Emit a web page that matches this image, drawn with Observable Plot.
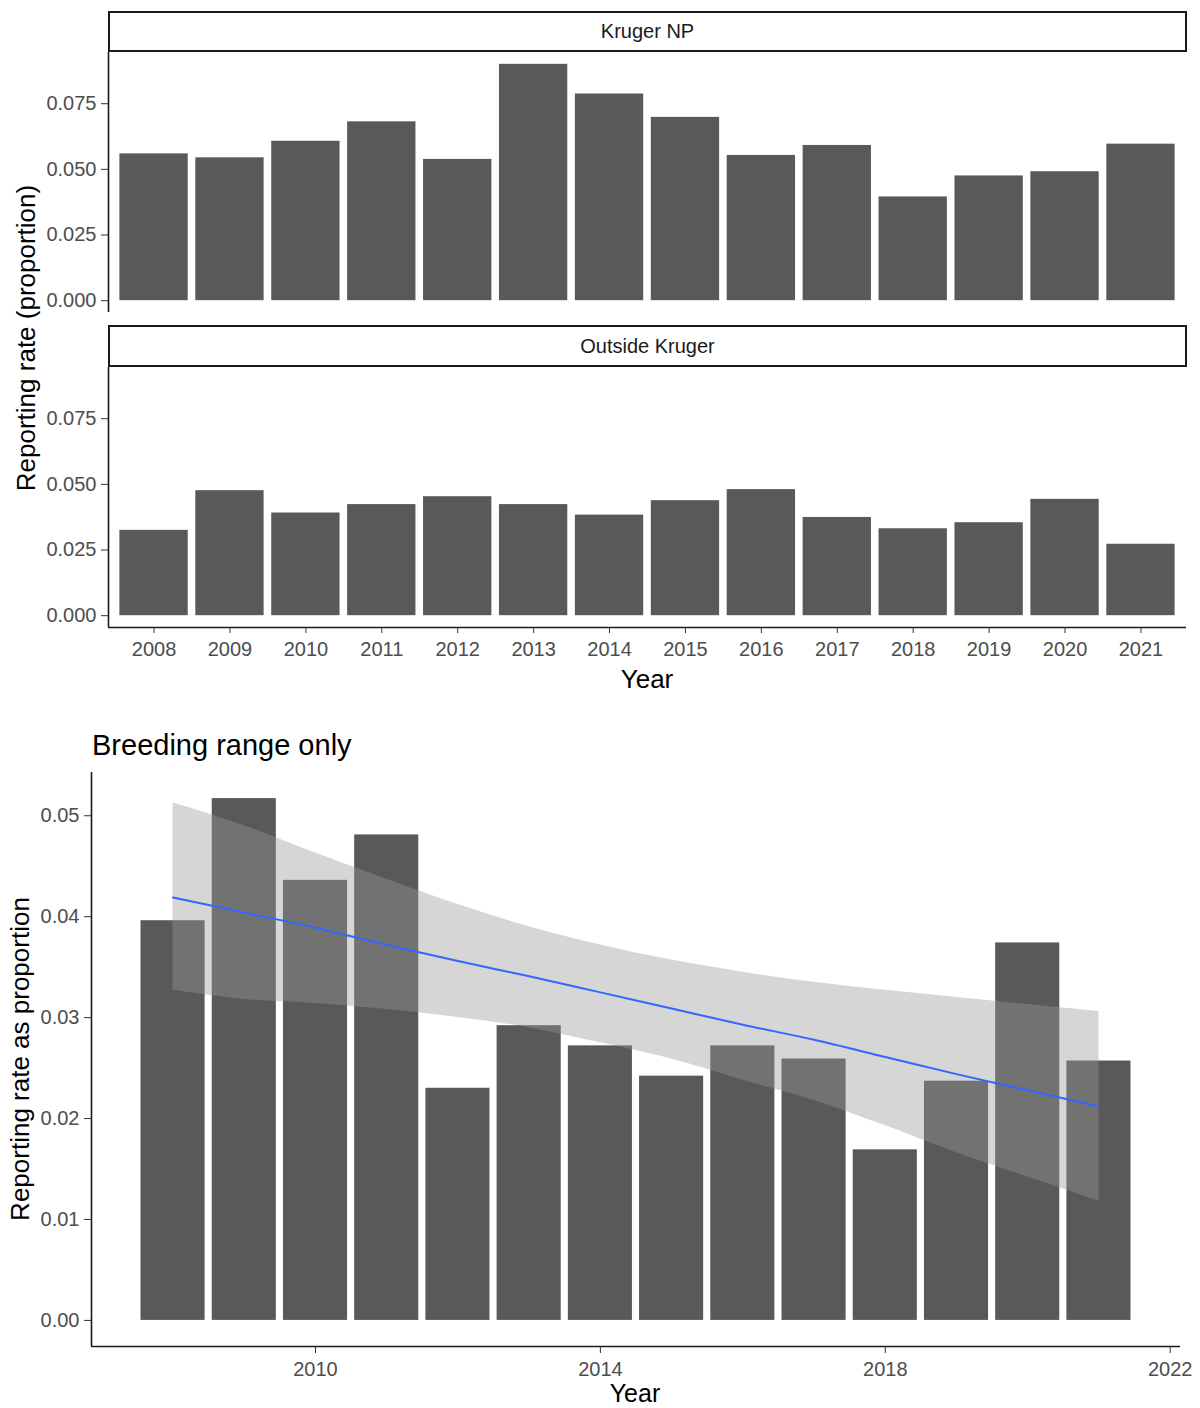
<!DOCTYPE html>
<html><head><meta charset="utf-8">
<script src="https://cdn.jsdelivr.net/npm/d3@7"></script>
<script src="https://cdn.jsdelivr.net/npm/@observablehq/plot@0.6"></script>
<style>
body{margin:0;background:#fff;font-family:"Liberation Sans",Arial,sans-serif;}
#root{position:relative;width:1200px;height:1408px;overflow:hidden;background:#fff;}
.panel{position:absolute;left:0;}
.strip{position:absolute;box-sizing:border-box;border:2px solid #1a1a1a;background:#fff;display:flex;align-items:center;justify-content:center;font-size:20px;color:#1a1a1a;}
.ttl{position:absolute;white-space:nowrap;color:#000;font-size:26px;line-height:1;transform:translate(-50%,-50%);}
.rot{transform:translate(-50%,-50%) rotate(-90deg);}
</style></head><body><div id="root"></div>
<script>
// ---- data ----
const years = [2008,2009,2010,2011,2012,2013,2014,2015,2016,2017,2018,2019,2020,2021];
const facetLabels = ["Kruger NP", "Outside Kruger"];
const kruger  = [0.0559,0.0544,0.0607,0.0681,0.0538,0.0900,0.0787,0.0698,0.0553,0.0591,0.0395,0.0475,0.0491,0.0596];
const outside = [0.0325,0.0476,0.0391,0.0423,0.0453,0.0423,0.0383,0.0438,0.0480,0.0374,0.0331,0.0354,0.0443,0.0272];
const breeding = [0.0396,0.0517,0.0436,0.0481,0.0230,0.0292,0.0272,0.0242,0.0272,0.0259,0.0169,0.0237,0.0374,0.0257];
const smoothFit = [0.0419,0.0404,0.0389,0.0372,0.0356,0.0341,0.0325,0.0309,0.0293,0.0278,0.0261,0.0244,0.0228,0.0212];
const smoothHi  = [0.0513,0.0490,0.0463,0.0437,0.0412,0.0390,0.0372,0.0357,0.0345,0.0335,0.0327,0.0320,0.0313,0.0306];
const smoothLo  = [0.0327,0.0318,0.0314,0.0308,0.0300,0.0290,0.0275,0.0259,0.0238,0.0218,0.0193,0.0166,0.0142,0.0118];
const topYTicks = [0, 0.025, 0.05, 0.075];
const bottomYTicks = [0, 0.01, 0.02, 0.03, 0.04, 0.05];
const bottomXTicks = [2010, 2014, 2018, 2022];
const titles = {
  topY: "Reporting rate (proportion)", topX: "Year",
  main: "Breeding range only", bottomY: "Reporting rate as proportion", bottomX: "Year"
};

// ---- styles ----
const BAR = "#595959", AXIS = "#1a1a1a", TICK = "#333333", TICKTXT = "#4d4d4d";
const FONT = "'Liberation Sans', Arial, sans-serif";
const TICKFONT = 20;
const root = document.getElementById("root");

function place(el, top) { el.classList.add("panel"); el.style.top = top + "px"; root.appendChild(el); }
function addDiv(cls, text, css) {
  const d = document.createElement("div"); d.className = cls; d.textContent = text;
  Object.assign(d.style, css); root.appendChild(d); return d;
}

// ---- top faceted panels ----
const topMax = d3.max([...kruger, ...outside]);
const topY = [-0.05 * topMax, 1.05 * topMax];
const topX = [years[0] - 0.6, years[years.length - 1] + 0.6];
const PANEL_H = 260;

function topPanel(values, withX) {
  const data = years.map((year, i) => ({year, value: values[i]}));
  const marks = [
    Plot.rectY(data, {x1: d => d.year - 0.45, x2: d => d.year + 0.45, y: "value", fill: BAR}),
    Plot.ruleX([topX[0]], {stroke: AXIS, strokeWidth: 1.6}),
    Plot.axisY({ticks: topYTicks, tickFormat: d3.format(".3f"), tickSize: 7, tickPadding: 5,
                fontSize: TICKFONT, stroke: TICK, fill: TICKTXT, label: null})
  ];
  if (withX) {
    marks.push(Plot.ruleY([topY[0]], {stroke: AXIS, strokeWidth: 1.6}));
    marks.push(Plot.axisX({ticks: years, tickFormat: d3.format("d"), tickSize: 6, tickPadding: 8,
                fontSize: TICKFONT, stroke: TICK, fill: TICKTXT, label: null}));
  }
  return Plot.plot({
    width: 1200, height: PANEL_H + (withX ? 36 : 0),
    marginLeft: 108, marginRight: 14, marginTop: 0, marginBottom: withX ? 36 : 0,
    x: withX ? {type: "linear", domain: topX, label: null} : {type: "linear", domain: topX, label: null, axis: null},
    y: {domain: topY, label: null},
    style: {fontFamily: FONT, background: "transparent", overflow: "visible"},
    marks
  });
}

addDiv("strip", facetLabels[0], {left: "108px", top: "11px", width: "1079px", height: "41px"});
place(topPanel(kruger, false), 52);
addDiv("strip", facetLabels[1], {left: "108px", top: "325px", width: "1079px", height: "42px"});
place(topPanel(outside, true), 366.5);
addDiv("ttl", titles.topX, {left: "647px", top: "679px"});
addDiv("ttl rot", titles.topY, {left: "26px", top: "338px"});

// ---- bottom chart ----
const bData = years.map((year, i) => ({year, value: breeding[i]}));
const sData = years.map((year, i) => ({year, fit: smoothFit[i], lo: smoothLo[i], hi: smoothHi[i]}));
const bRange = [years[0] - 0.45, years[years.length - 1] + 0.45];
const bPad = 0.05 * (bRange[1] - bRange[0]);
const bX = [bRange[0] - bPad, bRange[1] + bPad];
const bMax = d3.max([...breeding, ...smoothHi]);
const bY = [-0.05 * bMax, 1.05 * bMax];

const bottom = Plot.plot({
  width: 1200, height: 574 + 36,
  marginLeft: 91, marginRight: 20, marginTop: 0, marginBottom: 36,
  x: {type: "linear", domain: bX, label: null},
  y: {domain: bY, label: null},
  style: {fontFamily: FONT, background: "transparent", overflow: "visible"},
  marks: [
    Plot.rectY(bData, {x1: d => d.year - 0.45, x2: d => d.year + 0.45, y: "value", fill: BAR}),
    Plot.areaY(sData, {x: "year", y1: "lo", y2: "hi", fill: "#999999", fillOpacity: 0.4, curve: "monotone-x"}),
    Plot.line(sData, {x: "year", y: "fit", stroke: "#3366FF", strokeWidth: 2, curve: "monotone-x"}),
    Plot.ruleX([bX[0]], {stroke: AXIS, strokeWidth: 1.6}),
    Plot.ruleY([bY[0]], {stroke: AXIS, strokeWidth: 1.6}),
    Plot.axisY({ticks: bottomYTicks, tickFormat: d3.format(".2f"), tickSize: 7, tickPadding: 5,
                fontSize: TICKFONT, stroke: TICK, fill: TICKTXT, label: null}),
    Plot.axisX({ticks: bottomXTicks, tickFormat: d3.format("d"), tickSize: 7, tickPadding: 8,
                fontSize: TICKFONT, stroke: TICK, fill: TICKTXT, label: null})
  ]
});
place(bottom, 772);
addDiv("ttl", titles.main, {left: "92px", top: "745px", fontSize: "29px", transform: "translate(0,-50%)"});
addDiv("ttl", titles.bottomX, {left: "635px", top: "1393px", fontSize: "25px"});
addDiv("ttl rot", titles.bottomY, {left: "20px", top: "1059px"});
</script></body></html>
